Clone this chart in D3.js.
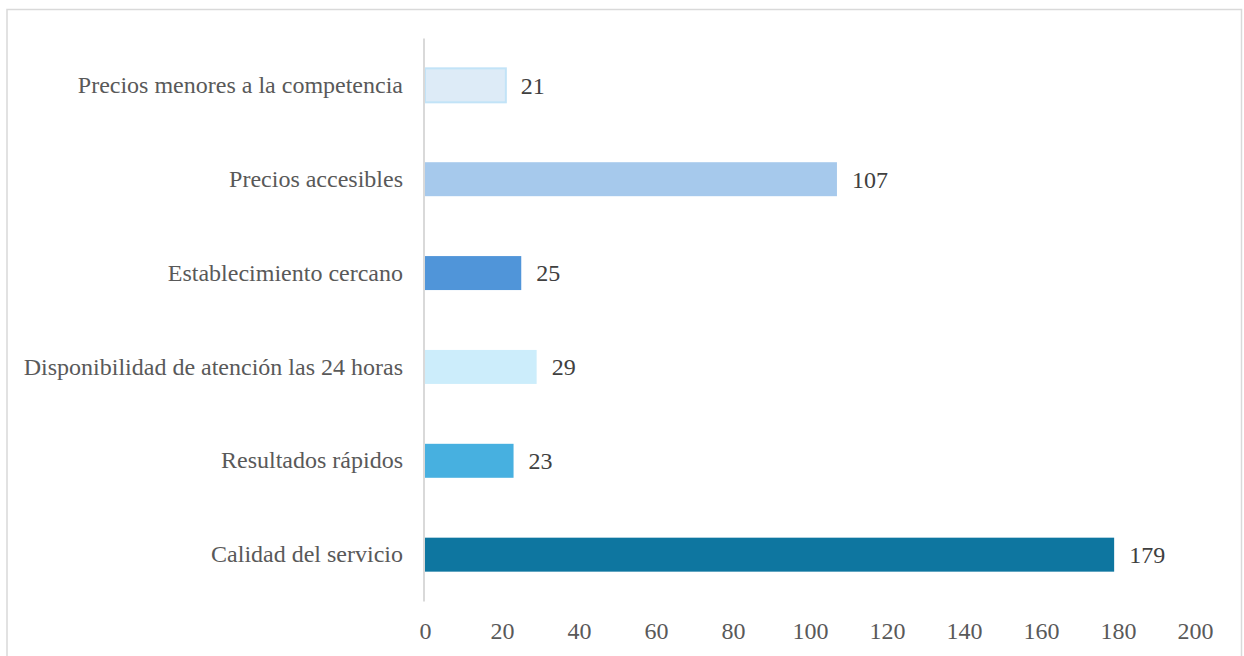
<!DOCTYPE html>
<html>
<head>
<meta charset="utf-8">
<script src="https://cdn.jsdelivr.net/npm/d3@7"></script>
<style>
  html, body { margin: 0; padding: 0; background: #fff; }
  svg { display: block; font-family: "Liberation Serif", "Times New Roman", serif; }
</style>
</head>
<body>
<svg id="chart" width="1244" height="656"></svg>
<script>
// Motivos de preferencia (conteo de respuestas)
const categories = [
  "Precios menores a la competencia",
  "Precios accesibles",
  "Establecimiento cercano",
  "Disponibilidad de atención las 24 horas",
  "Resultados rápidos",
  "Calidad del servicio"
];
const values = [21, 107, 25, 29, 23, 179];
const barColors = ["#DDEBF7", "#A6C9EC", "#5095D9", "#CCEDFB", "#47B0E0", "#0E76A0"];
const barStrokes = ["#C2E3F7", "none", "none", "none", "none", "none"];
const xTicks = [0, 20, 40, 60, 80, 100, 120, 140, 160, 180, 200];

const FONT = "'Liberation Serif', 'Times New Roman', serif";
const FONT_SIZE = "24px";

const svg = d3.select("#chart");

// Marco exterior del gráfico
svg.append("rect")
  .attr("x", 7).attr("y", 9.5)
  .attr("width", 1234.5).attr("height", 660)
  .attr("fill", "none")
  .attr("stroke", "#d9d9d9")
  .attr("stroke-width", 1.5);

const x = d3.scaleLinear().domain([0, 200]).range([425, 1195]);
const y = d3.scaleBand().domain(categories).range([38.4, 601.6]).paddingInner(0.638).paddingOuter(0.319);

// Barras
svg.append("g").selectAll("rect")
  .data(categories)
  .join("rect")
  .attr("x", x(0))
  .attr("y", d => y(d))
  .attr("width", (d, i) => x(values[i]) - x(0))
  .attr("height", y.bandwidth())
  .attr("fill", (d, i) => barColors[i])
  .attr("stroke", (d, i) => barStrokes[i])
  .attr("stroke-width", 2);

// Eje de categorías
const yAxis = svg.append("g")
  .attr("transform", `translate(${x(0) - 1},0)`)
  .call(d3.axisLeft(y).tickSize(0).tickPadding(21));
yAxis.select(".domain").attr("stroke", "#d9d9d9").attr("stroke-width", 2)
  .attr("d", `M0,38.4V601.6`);
yAxis.selectAll("text")
  .attr("fill", "#595959")
  .style("font-size", FONT_SIZE)
  .style("font-family", FONT);

// Eje de valores
const xAxis = svg.append("g")
  .attr("transform", "translate(0,601.6)")
  .call(d3.axisBottom(x).tickValues(xTicks).tickSize(0).tickPadding(20));
xAxis.select(".domain").remove();
xAxis.selectAll("text")
  .attr("fill", "#595959")
  .style("font-size", FONT_SIZE)
  .style("font-family", FONT);

// Etiquetas de valor
svg.append("g").selectAll("text")
  .data(categories)
  .join("text")
  .attr("x", (d, i) => x(values[i]) + 15)
  .attr("y", d => y(d) + y.bandwidth() / 2)
  .attr("dy", "0.35em")
  .attr("fill", "#404040")
  .style("font-size", FONT_SIZE)
  .style("font-family", FONT)
  .text((d, i) => values[i]);
</script>
</body>
</html>
